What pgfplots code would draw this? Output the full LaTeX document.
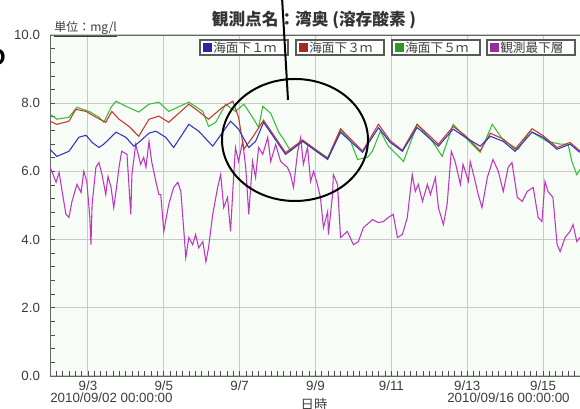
\documentclass[border=0pt]{standalone}
\usepackage{pgfplots}
\pgfplotsset{compat=1.18}
\usepackage{fontspec}
\setmainfont{Liberation Sans}
\newfontfamily\jp{Noto Sans CJK JP}
\definecolor{doblue}{RGB}{50,50,195}
\definecolor{dored}{RGB}{200,55,45}
\definecolor{dogreen}{RGB}{55,190,55}
\definecolor{domag}{RGB}{190,55,195}
\definecolor{plotbg}{RGB}{248,252,247}
\definecolor{gridgray}{RGB}{200,202,200}
\definecolor{labgray}{RGB}{60,60,60}

\begin{document}
\begin{tikzpicture}
\path[use as bounding box] (0,0) rectangle (435pt,306.75pt);
\begin{axis}[
    at={(37.5pt,24.75pt)}, anchor=south west,
    scale only axis,
    width=398.25pt, height=255.75pt,
    xmin=2, xmax=16,
    ymin=0, ymax=10,
    xtick={3,5,...,15},
    xticklabels={9/3,9/5,9/7,9/9,9/11,9/13,9/15},
    ytick={0,2,...,10},
    minor xtick={2,2.1666667,...,16},
    minor ytick={0,0.4,...,10},
    yticklabel style={xshift=-4pt, /pgf/number format/.cd, fixed, fixed zerofill, precision=1, assume math mode=true},
    ticklabel style={font=\fontsize{10}{12}\selectfont, text=labgray},
    xtick pos=left, ytick pos=left,
    tick align=inside,
    major tick length=4pt, minor tick length=3.5pt,
    tick style={black!70, line width=0.6pt},
    grid=major,
    major grid style={gridgray, line width=0.8pt},
    axis line style={black!60, line width=0.7pt},
    axis background/.style={fill=plotbg},
]

% 観測最下層
\addplot[color=domag, line width=0.8pt] coordinates {
(2.00,6.12)(2.05,6.00)(2.16,5.68)(2.24,5.97)(2.32,5.41)(2.42,4.74)(2.50,4.65)(2.58,5.12)
(2.71,5.62)(2.82,5.38)(2.89,6.00)(2.97,5.71)(3.05,4.65)(3.08,3.85)(3.11,5.03)(3.21,6.12)
(3.29,6.26)(3.37,5.91)(3.42,5.62)(3.47,5.32)(3.53,5.85)(3.61,5.53)(3.68,4.94)(3.74,5.41)
(3.82,6.12)(3.89,6.59)(4.03,6.50)(4.13,4.74)(4.16,5.91)(4.26,6.79)(4.39,6.21)(4.47,6.41)
(4.53,6.12)(4.61,6.88)(4.68,6.29)(4.79,5.71)(4.87,5.32)(4.92,5.32)(5.00,4.24)(5.13,5.03)
(5.26,5.53)(5.37,5.68)(5.45,5.41)(5.53,4.24)(5.58,3.47)(5.66,4.06)(5.76,3.85)(5.84,4.15)
(5.92,3.76)(6.03,3.94)(6.11,3.35)(6.18,3.76)(6.29,4.74)(6.42,5.53)(6.50,5.91)(6.58,4.94)
(6.68,5.24)(6.76,4.24)(6.84,5.82)(6.89,6.70)(6.97,6.29)(7.08,6.88)(7.16,6.12)(7.24,4.74)
(7.34,6.29)(7.42,5.82)(7.50,6.70)(7.61,6.50)(7.74,7.00)(7.82,6.29)(7.95,6.79)(8.08,6.29)
(8.26,6.12)(8.34,5.91)(8.42,5.53)(8.53,6.59)(8.61,7.00)(8.68,6.21)(8.79,6.70)(8.87,5.71)
(8.95,6.00)(9.05,5.62)(9.13,5.24)(9.21,4.35)(9.32,4.82)(9.34,4.15)(9.45,5.32)(9.47,5.91)
(9.58,5.62)(9.66,4.06)(9.84,4.24)(10.00,3.85)(10.13,3.94)(10.26,4.35)(10.45,4.53)(10.50,4.59)
(10.66,4.50)(10.79,4.53)(10.92,4.65)(11.05,4.74)(11.16,4.06)(11.29,4.15)(11.42,4.65)(11.55,5.91)
(11.63,5.41)(11.71,5.62)(11.82,5.12)(11.95,5.62)(12.03,5.32)(12.16,5.82)(12.24,4.94)(12.37,4.44)
(12.47,5.03)(12.58,6.59)(12.68,6.29)(12.82,5.62)(12.89,6.21)(13.03,5.71)(13.08,6.29)(13.21,5.71)
(13.29,5.32)(13.39,4.94)(13.53,5.82)(13.68,6.35)(13.82,6.00)(13.95,5.41)(14.08,6.12)(14.18,6.26)
(14.32,5.24)(14.45,5.12)(14.58,5.41)(14.74,5.53)(14.87,4.65)(14.97,4.53)(15.05,5.71)(15.13,5.41)
(15.26,5.24)(15.37,3.85)(15.45,3.65)(15.58,4.06)(15.71,4.24)(15.79,4.44)(15.89,3.94)(15.97,4.06)
};

% 海面下5m
\addplot[color=dogreen, line width=0.8pt] coordinates {
(2.00,7.68)(2.18,7.53)(2.50,7.59)(2.71,7.88)(3.03,7.76)(3.29,7.59)(3.42,7.44)(3.61,7.88)
(3.74,8.06)(4.00,7.91)(4.34,7.74)(4.61,7.97)(4.87,8.03)(5.13,7.76)(5.66,8.03)(6.03,7.76)
(6.18,7.32)(6.37,7.44)(6.63,7.97)(6.89,7.76)(7.11,7.97)(7.34,7.59)(7.50,7.29)(7.61,7.91)
(7.82,7.70)(8.03,7.15)(8.16,6.94)(8.34,6.60)(8.66,6.90)(9.32,6.40)(9.66,7.20)(9.92,6.90)
(10.11,6.35)(10.37,6.41)(10.50,6.59)(10.71,7.18)(10.92,6.74)(11.32,6.29)(11.68,7.38)(12.08,6.88)
(12.34,6.44)(12.63,7.38)(12.95,7.00)(13.34,6.56)(13.66,7.38)(13.95,6.91)(14.34,6.65)(14.66,7.18)
(15.11,6.88)(15.45,6.80)(15.66,6.80)(15.76,6.29)(15.89,5.90)(15.97,6.06)
};

% 海面下3m
\addplot[color=dored, line width=0.8pt] coordinates {
(2.00,7.47)(2.18,7.38)(2.50,7.47)(2.68,7.82)(2.95,7.76)(3.21,7.59)(3.47,7.44)(3.63,7.76)
(3.82,7.53)(4.08,7.32)(4.34,7.03)(4.61,7.53)(4.87,7.62)(5.13,7.44)(5.66,7.97)(5.92,7.76)
(6.18,7.53)(6.55,7.88)(6.82,8.06)(6.97,7.59)(7.11,6.65)(7.34,7.00)(7.63,7.50)(8.21,6.55)
(8.66,6.92)(9.32,6.38)(9.66,7.25)(10.24,6.60)(10.66,7.38)(10.97,6.90)(11.29,6.62)(11.68,7.38)
(12.24,6.80)(12.63,7.32)(12.95,7.05)(13.34,6.60)(13.61,7.12)(13.95,6.95)(14.26,6.65)(14.71,7.25)
(15.00,7.05)(15.37,6.70)(15.71,6.85)(15.97,6.60)
};

% 海面下1m
\addplot[color=doblue, line width=0.8pt] coordinates {
(2.00,6.65)(2.18,6.44)(2.50,6.59)(2.76,7.00)(2.95,7.06)(3.11,6.85)(3.29,6.70)(3.42,6.80)
(3.74,7.15)(4.00,7.00)(4.21,6.74)(4.34,6.85)(4.61,7.12)(4.79,7.18)(5.05,7.00)(5.26,6.70)
(5.66,7.38)(5.92,7.18)(6.29,6.74)(6.76,7.47)(6.97,7.24)(7.24,6.70)(7.42,6.88)(7.63,7.44)
(8.21,6.50)(8.66,6.88)(9.32,6.35)(9.66,7.15)(10.24,6.56)(10.66,7.28)(10.97,6.85)(11.29,6.59)
(11.68,7.29)(12.24,6.74)(12.63,7.24)(12.95,7.00)(13.13,6.88)(13.34,6.74)(13.61,7.03)(13.95,6.88)
(14.26,6.59)(14.71,7.15)(15.00,7.00)(15.37,6.65)(15.71,6.80)(15.97,6.56)
};
\end{axis}

\begin{scope}[x=0.75pt, y=0.75pt]
% title and unit
\node[font=\jp\bfseries\fontsize{12.5}{14}\selectfont, text=black!80] at (314,389) {観測点名：湾奥 (溶存酸素 )};
\node[font=\jp\fontsize{9}{11}\selectfont, text=labgray, anchor=west, inner sep=0pt] at (54,380) {\underline{単位：mg/l}};
% legend boxes
\foreach \x/\c/\t in {200/doblue/海面下１ｍ, 296/dored/海面下３ｍ, 392/dogreen/海面下５ｍ, 487/domag/観測最下層}{
  \draw[black!65, line width=0.9pt, fill=white] (\x,354) rectangle ++(88,15);
  \fill[\c!80!black] (\x+3,357) rectangle ++(9,9);
  \node[font=\jp\fontsize{9.5}{11}\selectfont, text=black!75, anchor=west, inner sep=0pt] at (\x+13,361.5) {\t};
}
% bottom labels
\node[font=\fontsize{10}{12}\selectfont, text=labgray, anchor=west, inner sep=0pt] at (50,11) {2010/09/02 00:00:00};
\node[font=\fontsize{10}{12}\selectfont, text=labgray, anchor=west, inner sep=0pt] at (447,11) {2010/09/16 00:00:00};
\node[font=\jp\fontsize{10}{12}\selectfont, text=labgray, anchor=north, inner sep=0pt] at (314,11) {日時};
% annotation
\draw[black, line width=1.5pt] (295,269) ellipse [x radius=73, y radius=61];
\draw[black, line width=1.5pt] (282,412) -- (288,309);
\node[font=\bfseries\fontsize{18}{20}\selectfont, anchor=east, inner sep=0pt] at (6,352) {D};
\end{scope}
\end{tikzpicture}
\end{document}
